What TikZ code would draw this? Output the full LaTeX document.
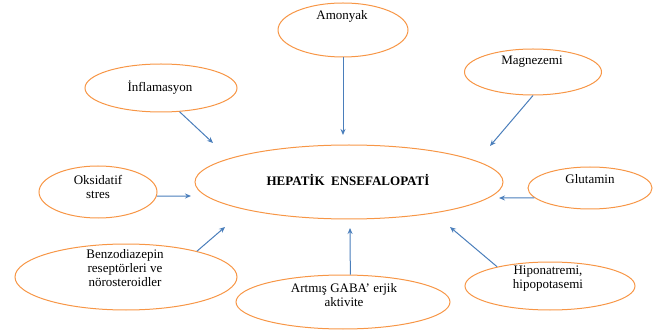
\documentclass[tikz,border=0pt]{standalone}
\usepackage{fontspec}
\setmainfont{Liberation Serif}
\usetikzlibrary{shapes.geometric,arrows.meta}
\definecolor{orangeline}{RGB}{247,150,70}
\definecolor{arrowblue}{RGB}{74,126,187}

\begin{document}
\begin{tikzpicture}[x=1pt,y=-1pt,
   bubble/.style={ellipse,draw=orangeline,line width=1pt,inner sep=0pt},
   lbl/.style={font=\fontsize{13}{14}\selectfont,align=center,inner sep=0pt},
   every edge/.style={draw=arrowblue,line width=1pt,-{Stealth[length=6pt,width=5pt]}}]
   \useasboundingbox (0,0) rectangle (661,331);
   % ellipses
   \node[bubble,minimum width=308pt,minimum height=74pt] (hep) at (349,182) {};
   \node[bubble,minimum width=130pt,minimum height=54pt] (amo) at (343,30) {};
   \node[bubble,minimum width=152pt,minimum height=48pt] (infl) at (161,88) {};
   \node[bubble,minimum width=137pt,minimum height=46pt] (mag) at (533,72) {};
   \node[bubble,minimum width=118pt,minimum height=52pt] (oks) at (98,192) {};
   \node[bubble,minimum width=124pt,minimum height=42pt] (glu) at (590,188) {};
   \node[bubble,minimum width=222pt,minimum height=66pt] (benz) at (126,277) {};
   \node[bubble,minimum width=214pt,minimum height=54pt] (gaba) at (343,302) {};
   \node[bubble,minimum width=170pt,minimum height=48pt] (hip) at (550,286) {};
   % texts
   \node[lbl,font=\fontsize{13}{14}\selectfont\bfseries] (heptx) at (348,180) {HEPATİK\ \ ENSEFALOPATİ};
   \node[lbl] (amotx) at (342,16) {Amonyak};
   \node[lbl] (infltx) at (160,88) {İnflamasyon};
   \node[lbl] (magtx) at (532,62) {Magnezemi};
   \node[lbl] (okstx) at (98,187) {Oksidatif\\stres};
   \node[lbl] (glutx) at (590,179) {Glutamin};
   \node[lbl] (benztx) at (125,268) {Benzodiazepin\\reseptörleri ve\\nörosteroidler};
   \node[lbl] (gabatx) at (344,295) {Artmış GABA’ erjik\\aktivite};
   \node[lbl] (hiptx) at (548,279) {Hiponatremi,\\hipopotasemi};
   % arrow ends
   \coordinate (amoend) at (343,135);
   \coordinate (inflend) at (213,143);
   \coordinate (magend) at (490,146);
   \coordinate (oksend) at (191,196);
   \coordinate (gluend) at (499,198);
   \coordinate (benzend) at (225,227);
   \coordinate (gabaend) at (350,228);
   \coordinate (hipend) at (450,227);
    \path
    (amo.south) edge (amoend)
    (infl.-52) edge (inflend)
    (mag.south) edge (magend)
    (oks.-4) edge (oksend)
    (glu.190) edge (gluend)
    (benz.20) edge (benzend)
    (gaba.75) edge (gabaend)
    (hip.160) edge (hipend);
\end{tikzpicture}
\end{document}
